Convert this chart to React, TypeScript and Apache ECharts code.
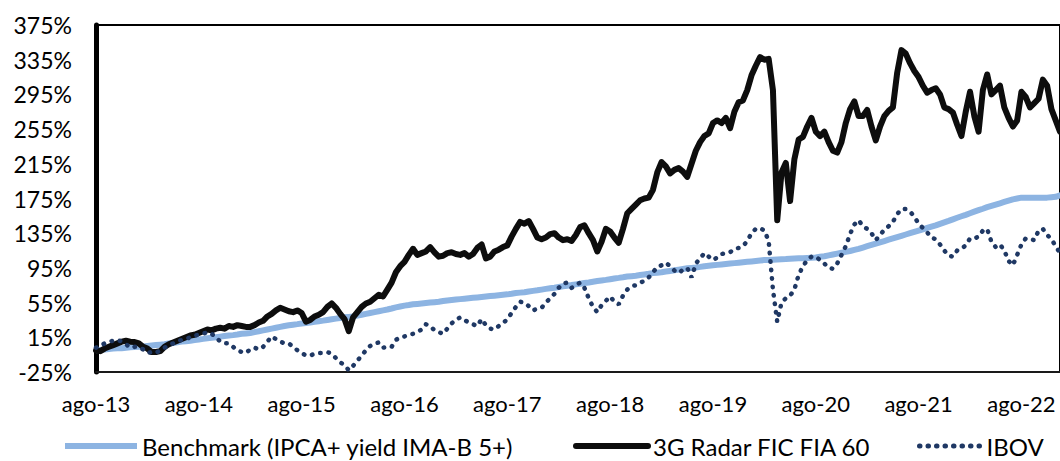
import React, { useEffect, useRef } from "react";
import * as echarts from "echarts";

// Semi-monthly observations from Aug-2013 (index 0) to early Jan-2023 (index 225)
const monthNames = ["jan", "fev", "mar", "abr", "mai", "jun", "jul", "ago", "set", "out", "nov", "dez"];
const startYear = 2013;
const startMonth = 7; // August
const pointsCount = 226;

const yearTickLabels = ["ago-13", "ago-14", "ago-15", "ago-16", "ago-17", "ago-18", "ago-19", "ago-20", "ago-21", "ago-22"];

const seriesNames = ["Benchmark (IPCA+ yield IMA-B 5+)", "3G Radar FIC FIA 60", "IBOV"];

const benchmark = [
  0, 0.5, 1, 1.5, 2, 2.3, 2.5, 3, 3.5, 3.8, 4, 4.5, 5, 5.5, 6, 6.5, 7, 7.8, 8.5, 9.2, 10, 10.5, 11, 11.8, 12.5,
  13.2, 14, 14.5, 15, 15.8, 16.5, 17, 17.5, 18.2, 19, 19.5, 20, 21, 22, 23, 24, 25, 26, 27, 28, 28.8, 29.5, 30.2, 31,
  31.5, 32, 32.8, 33.5, 34.2, 35, 35.8, 36.5, 37.2, 38, 38.5, 39, 40, 41, 42, 43, 44, 45, 46, 47, 48.2, 49.5, 50.5, 51.5,
  52.2, 53, 53.5, 54, 54.5, 55, 55.5, 56, 56.8, 57.5, 58, 58.5, 59, 59.5, 60, 60.5, 61, 61.5, 62, 62.5, 63, 63.5, 64, 64.5,
  65.2, 66, 66.5, 67, 67.8, 68.5, 69.2, 70, 70.8, 71.5, 72.2, 73, 73.8, 74.5, 75.2, 76, 76.8, 77.5, 78.2, 79, 79.8, 80.5, 81.2,
  82, 82.8, 83.5, 84.2, 85, 85.5, 86, 86.8, 87.5, 88.2, 89, 89.5, 90, 90.8, 91.5, 92.2, 93, 93.8, 94.5, 95, 95.5, 96.2,
  97, 97.5, 98, 98.5, 99, 99.5, 100, 100.5, 101, 101.5, 102, 102.5, 103, 103.5, 104, 104.2, 104.5, 104.8, 105, 105.2, 105.5, 105.8,
  106, 106.2, 106.5, 106.8, 107, 107.8, 108.5, 109.5, 110.5, 111.5, 112.5, 113.5, 114.5, 115.8, 117, 118.5, 120, 121.5, 123, 124.5, 126,
  127.5, 129, 130.5, 132, 133.5, 135, 136.5, 138, 139.5, 141, 142.5, 144, 145.8, 147.5, 149.2, 151, 152.8, 154.5, 156.2, 158, 159.8, 161.5, 163.2,
  165, 166.5, 168, 169.5, 171, 172.5, 174, 175, 176, 176, 176, 176, 176, 176, 176, 176.5, 177, 178.5, 180, 182,
];

const radar = [
  0, -1, 2, 4, 6, 8, 10, 11, 10, 9.6, 8, 4, 2, -2, -2, -1, 4, 7, 9, 11, 13, 15, 17, 18, 20,
  22, 24, 23, 25, 26, 25, 28, 27, 29, 28, 27, 27, 29, 32, 34, 39, 42, 46, 49, 47, 45, 44, 46, 43, 33,
  35, 39, 41, 44, 50, 54, 49, 42, 36, 22, 38, 44, 50, 54, 56, 60, 64, 62, 70, 78, 90, 97, 102, 110, 117,
  110, 112, 114, 119, 113, 108, 109, 112, 113, 111, 110, 112, 108, 111, 118, 122, 106, 108, 114, 116, 119, 121, 131, 140, 148,
  146, 149, 140, 130, 128, 130, 134, 135, 130, 127, 128, 126, 133, 142, 144, 135, 127, 114, 125, 140, 137, 130, 124, 140, 158,
  163, 168, 173, 175, 176, 185, 205, 217, 212, 204, 208, 210, 206, 200, 215, 230, 240, 247, 250, 262, 265, 262, 268, 256, 275,
  286, 288, 300, 317, 328, 338, 335, 336, 300, 150, 205, 216, 172, 220, 243, 246, 258, 268, 252, 247, 252, 240, 230, 228, 240,
  262, 278, 287, 270, 270, 277, 258, 242, 258, 270, 276, 280, 320, 346, 342, 331, 322, 315, 305, 297, 300, 302, 295, 280, 278,
  274, 260, 247, 275, 298, 270, 252, 300, 318, 295, 300, 305, 280, 268, 258, 265, 298, 292, 280, 285, 290, 312, 305, 278, 265,
  252,
];

const ibov = [
  3, 5, 8, 10, 11, 12, 10, 7, 3, 4, 4, 1, -3, -2, -3, 0, 3, 6, 8, 10, 12, 13, 15, 17, 18,
  19, 21, 19, 15, 10, 8, 8, 4, 0, -2, -3, 1, 3, 1, 4, 10, 16, 13, 10, 8, 8, 4, 0, -3, -6,
  -6, -4, -3, -3, -2, -4, -9, -14, -17, -23, -18, -12, -6, 0, 5, 8, 9, 3, 4, 4, 12, 15, 16, 18, 19,
  21, 24, 30, 28, 23, 21, 19, 25, 31, 35, 38, 35, 32, 30, 28, 36, 29, 25, 24, 28, 31, 36, 43, 50, 56,
  55, 51, 46, 48, 49, 55, 60, 65, 72, 77, 78, 72, 75, 78, 72, 60, 50, 44, 52, 57, 62, 56, 53, 63, 70,
  74, 75, 78, 80, 84, 90, 96, 98, 101, 97, 92, 89, 93, 95, 84, 100, 106, 112, 108, 104, 107, 111, 112, 113, 117,
  118, 120, 126, 135, 140, 141, 138, 126, 70, 33, 55, 60, 63, 70, 87, 97, 104, 108, 108, 104, 100, 95, 94, 100, 110,
  120, 134, 145, 150, 143, 140, 135, 127, 133, 139, 143, 148, 157, 163, 163, 160, 154, 146, 141, 136, 130, 128, 122, 115, 109,
  108, 115, 117, 121, 129, 129, 131, 138, 140, 125, 119, 122, 115, 103, 98, 110, 122, 129, 128, 127, 138, 140, 133, 128, 120,
  112,
];

const categories: string[] = [];
for (let i = 0; i < pointsCount; i++) {
  const mIdx = startMonth + Math.floor(i / 2);
  const year = startYear + Math.floor(mIdx / 12);
  const mon = mIdx % 12;
  categories.push(`${i % 2 === 0 ? "01" : "15"}/${monthNames[mon]}/${year}`);
}

const FONT = "Lato";
const legendLefts = [62, 573, 917];
const legendItemWidths = [72, 72, 62];
const legendLineWidths = [6, 6, 5];

export default function App() {
  const ref = useRef<HTMLDivElement>(null);
  useEffect(() => {
    if (!ref.current) return;
    const chart = echarts.init(ref.current, undefined, { renderer: "svg" });
    chart.setOption({
      animation: false,
      backgroundColor: "#ffffff",
      textStyle: { fontFamily: FONT },
      grid: {
        left: 96,
        right: 0,
        top: 25,
        bottom: 89,
        show: true,
        borderColor: "#000000",
        borderWidth: 2,
      },
      legend: seriesNames.map((name, k) => ({
        show: true,
        left: legendLefts[k],
        top: 434,
        padding: 0,
        itemWidth: legendItemWidths[k],
        itemHeight: 14,
        itemGap: 6,
        itemStyle: { opacity: 0 },
        lineStyle: { width: legendLineWidths[k] },
        textStyle: { fontFamily: FONT, fontSize: 24, color: "#000000" },
        data: [name],
      })),
      xAxis: {
        type: "category",
        data: categories,
        boundaryGap: false,
        axisLine: { show: true, onZero: false, lineStyle: { color: "#1a1a1a", width: 2 } },
        axisTick: { show: false },
        splitLine: { show: false },
        axisLabel: {
          interval: 23,
          margin: 20,
          fontFamily: FONT,
          fontSize: 22,
          color: "#000000",
          formatter: (_v: string, idx: number) => yearTickLabels[Math.round(idx / 24)] ?? "",
        },
      },
      yAxis: {
        type: "value",
        min: -25,
        max: 375,
        interval: 40,
        axisLine: { show: true, lineStyle: { color: "#000000", width: 5 } },
        axisTick: { show: false },
        splitLine: { show: false },
        axisLabel: {
          margin: 24,
          fontFamily: FONT,
          fontSize: 23,
          color: "#000000",
          formatter: (v: number) => `${v}%`,
        },
      },
      series: [
        {
          name: seriesNames[0],
          type: "line",
          data: benchmark,
          symbol: "none",
          lineStyle: { color: "#8DB4E2", width: 6 },
          itemStyle: { color: "#8DB4E2" },
        },
        {
          name: seriesNames[1],
          type: "line",
          data: radar,
          symbol: "none",
          lineStyle: { color: "#0D0D0D", width: 6, join: "round", cap: "round" },
          itemStyle: { color: "#0D0D0D" },
        },
        {
          name: seriesNames[2],
          type: "line",
          data: ibov,
          symbol: "none",
          lineStyle: { color: "#1F3864", width: 4.5, type: [0.5, 8], cap: "round" },
          itemStyle: { color: "#1F3864" },
        },
      ],
    });
    return () => chart.dispose();
  }, []);
  return (
    <div
      ref={ref}
      style={{ position: "fixed", left: 0, top: 0, width: 1060, height: 461 }}
    />
  );
}
